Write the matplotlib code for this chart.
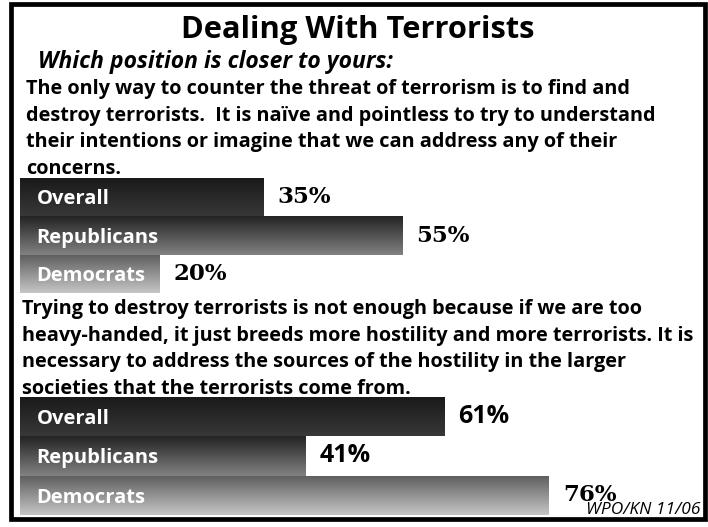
import matplotlib as mpl
mpl.use('Agg')
import numpy as np
import matplotlib.pyplot as plt
from matplotlib.colors import LinearSegmentedColormap
from matplotlib.patches import Rectangle

W, H = 708, 527

title = "Dealing With Terrorists"
subtitle = "Which position is closer to yours:"
statement1 = ["The only way to counter the threat of terrorism is to find and",
              "destroy terrorists.  It is na\u00efve and pointless to try to understand",
              "their intentions or imagine that we can address any of their",
              "concerns."]
statement2 = ["Trying to destroy terrorists is not enough because if we are too",
              "heavy-handed, it just breeds more hostility and more terrorists. It is",
              "necessary to address the sources of the hostility in the larger",
              "societies that the terrorists come from."]
groups = ["Overall", "Republicans", "Democrats"]
values1 = [35, 55, 20]
values2 = [61, 41, 76]
source = "WPO/KN 11/06"

SANS = "Open Sans"
SERIF = "DejaVu Serif"
value_fonts1 = [SERIF, SERIF, SERIF]
value_fonts2 = [SANS, SANS, SERIF]

# vertical gradients (top colour, bottom colour) per group
gradients = [("#191919", "#383838"),
             ("#232323", "#828282"),
             ("#5c5c5c", "#c6c6c6")]


def fy(py):
    return 1 - py / H


fig = plt.figure(figsize=(W / 100, H / 100), dpi=100)
fig.patch.set_facecolor("white")

# frame round the whole slide
fig.patches.append(Rectangle((10.5 / W, fy(518.5)), 694 / W, 514.5 / H,
                             transform=fig.transFigure, fill=False,
                             edgecolor="black", linewidth=3.4))

fig.text(358 / W, fy(38), title, ha="center", va="baseline",
         fontfamily=SANS, fontweight="bold", fontsize=22.2)
fig.text(38 / W, fy(68), subtitle, ha="left", va="baseline",
         fontfamily=SANS, fontweight="bold", fontstyle="italic", fontsize=16.5)

step = 26.67
for k, line in enumerate(statement1):
    fig.text(26 / W, fy(94 + k * step), line, ha="left", va="baseline",
             fontfamily=SANS, fontweight="bold", fontsize=14.3)
for k, line in enumerate(statement2):
    fig.text(22 / W, fy(314 + k * step), line, ha="left", va="baseline",
             fontfamily=SANS, fontweight="bold", fontsize=14.3)


def draw_group(ax, values, fonts):
    bars = ax.barh(range(len(values)), values, height=1.0, color="none",
                   edgecolor="none")
    grad = np.linspace(0, 1, 256).reshape(-1, 1)
    for i, (bar, v) in enumerate(zip(bars, values)):
        cmap = LinearSegmentedColormap.from_list("g%d" % i, gradients[i])
        im = ax.imshow(grad, cmap=cmap, aspect="auto", interpolation="bilinear",
                       extent=(0, v, i + 0.5, i - 0.5), origin="upper")
        im.set_clip_path(bar)
        ax.text(2.4, i + 0.06, groups[i], color="white", ha="left",
                va="center", fontfamily=SANS, fontweight="bold", fontsize=14.5)
        size = 16.5 if fonts[i] == SERIF else 18
        ax.annotate("%d%%" % v, xy=(v, i), xytext=(10, 0),
                    textcoords="offset points", ha="left", va="center",
                    fontfamily=fonts[i], fontweight="bold", fontsize=size)
    ax.set_xlim(0, 97)
    ax.set_ylim(len(values) - 0.5, -0.5)
    ax.axis("off")


ax1 = fig.add_axes([20 / W, fy(293), 675 / W, 115 / H])
draw_group(ax1, values1, value_fonts1)
ax2 = fig.add_axes([20 / W, fy(515), 675 / W, 118 / H])
draw_group(ax2, values2, value_fonts2)

fig.text(700 / W, fy(514), source, ha="right", va="baseline",
         fontfamily=SANS, fontstyle="italic", fontsize=12.5)

plt.savefig("out.png", dpi=100)
plt.close()
